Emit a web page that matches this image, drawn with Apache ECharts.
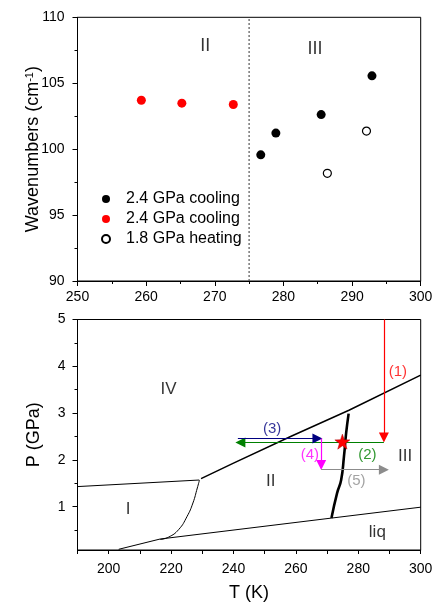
<!DOCTYPE html>
<html><head><meta charset="utf-8">
<script src="https://cdn.jsdelivr.net/npm/echarts@6/dist/echarts.min.js"></script>
<style>html,body{margin:0;padding:0;background:#fff}#c{width:436px;height:604px}</style>
</head><body><div id="c"></div>
<script>
// ---------- upper panel data ----------
const legendLabels = ['2.4 GPa cooling', '2.4 GPa cooling', '1.8 GPa heating'];
const coolBlackT = [276.7, 278.9, 285.5, 292.9];
const coolBlackW = [99.57, 101.22, 102.62, 105.56];
const coolRedT = [259.3, 265.2, 272.7];
const coolRedW = [103.71, 103.49, 103.39];
const heatT = [286.4, 292.1];
const heatW = [98.17, 101.37];
const transitionT = 275;
const topPhaseNames = ['II', 'III'];
const topPhaseT = [268.6, 284.6];
const topPhaseW = [107.8, 107.6];

// ---------- lower panel (phase diagram) data ----------
const bI_IV_T = [190, 229];
const bI_IV_P = [1.43, 1.57];
const bIV_T = [229.6, 240, 258.3, 277, 300];
const bIV_P = [1.60, 1.93, 2.50, 3.06, 3.81];
const bI_II_T = [229.1, 228.4, 227.0, 225.1, 222.4, 219.2, 216.5];
const bI_II_P = [1.57, 1.40, 1.08, 0.79, 0.51, 0.35, 0.30];
const bLiqT = [203.2, 216.5, 300];
const bLiqP = [0.09, 0.31, 0.99];
const bII_III_T = [271.4, 273.2, 274.5, 275.4, 276.1, 276.9];
const bII_III_P = [0.76, 1.29, 1.57, 2.07, 2.57, 2.99];
const starT = [274.9];
const starP = [2.39];
// arrows: start (T0,P0) -> end (T1,P1)
const arrowNames = ['(1)', '(2)', '(3)', '(4)', '(5)'];
const arrowT0 = [288.2, 288.2, 241.4, 268.1, 268.1];
const arrowP0 = [5.0, 2.37, 2.46, 2.46, 1.79];
const arrowT1 = [288.2, 242.2, 266.9, 268.1, 288.2];
const arrowP1 = [2.48, 2.37, 2.46, 1.89, 1.79];
const arrowColors = ['#ff0000', '#008000', '#000080', '#ff00ff', '#8c8c8c'];
const arrowLabelT = [292.7, 282.9, 252.4, 264.5, 279.4];
const arrowLabelP = [3.88, 2.11, 2.66, 2.11, 1.55];
const phaseNames = ['IV', 'I', 'II', 'III', 'liq'];
const phaseT = [219.2, 206.2, 251.9, 295.0, 286.1];
const phaseP = [3.50, 0.95, 1.54, 2.07, 0.46];

const FONT = 'Liberation Sans, Arial, sans-serif';
const zip = (a, b) => a.map((v, i) => [v, b[i]]);

const chart = echarts.init(document.getElementById('c'), null, {renderer: 'canvas'});

function labelSeries(xi, yi, names, xs, ys, size, colors) {
  return {
    type: 'scatter', xAxisIndex: xi, yAxisIndex: yi, symbolSize: 1,
    itemStyle: {color: 'rgba(0,0,0,0)'}, silent: true, z: 5,
    data: names.map((n, i) => ({
      name: n, value: [xs[i], ys[i]],
      label: {color: colors ? colors[i] : '#000'}
    })),
    label: {show: true, position: 'inside', formatter: '{b}', fontSize: size, fontFamily: FONT, color: '#000'}
  };
}

const lineBase = (xi, yi, xs, ys, w, extra) => Object.assign({
  type: 'line', xAxisIndex: xi, yAxisIndex: yi, showSymbol: false, symbol: 'none',
  data: zip(xs, ys), lineStyle: {color: '#000', width: w}, silent: true, z: 3
}, extra || {});

const axisCommon = {
  axisLine: {show: true, lineStyle: {color: '#000', width: 1}},
  axisTick: {show: true, inside: false, length: 5, lineStyle: {color: '#000', width: 1}},
  splitLine: {show: false},
  axisLabel: {color: '#000', fontSize: 14, fontFamily: FONT},
  nameTextStyle: {color: '#000', fontSize: 18, fontFamily: FONT},
  nameMoveOverlap: false
};

const option = {
  animation: false,
  backgroundColor: '#fff',
  grid: [
    {left: 77.5, top: 17.3, width: 343.2, height: 263.7, show: true, borderColor: '#000', borderWidth: 1},
    {left: 77.5, top: 319.5, width: 343.2, height: 230.5, show: true, borderColor: '#000', borderWidth: 1}
  ],
  legend: {
    show: true, orient: 'vertical', left: 96, top: 186, itemWidth: 8, itemHeight: 8, itemGap: 4,
    icon: 'circle', data: ['cb', 'cr', 'h'],
    formatter: n => legendLabels[['cb', 'cr', 'h'].indexOf(n)],
    textStyle: {color: '#000', fontSize: 16, fontFamily: FONT, padding: [0, 0, 0, 11]},
    selectedMode: false
  },
  xAxis: [
    Object.assign({}, axisCommon, {
      gridIndex: 0, type: 'value', min: 250, max: 300, interval: 10,
      minorTick: {show: true, splitNumber: 2, length: 3, lineStyle: {color: '#000', width: 1}},
      axisLabel: Object.assign({}, axisCommon.axisLabel, {margin: 9})
    }),
    Object.assign({}, axisCommon, {
      gridIndex: 1, type: 'value', min: 190, max: 300, interval: 10,
      axisTick: Object.assign({}, axisCommon.axisTick, {length: 4}),
      axisLabel: Object.assign({}, axisCommon.axisLabel, {margin: 12, formatter: v => (v % 20 === 0 ? String(v) : '')}),
      name: 'T (K)', nameLocation: 'middle', nameGap: 34
    })
  ],
  yAxis: [
    Object.assign({}, axisCommon, {
      gridIndex: 0, type: 'value', min: 90, max: 110, interval: 5,
      minorTick: {show: true, splitNumber: 2, length: 3, lineStyle: {color: '#000', width: 1}},
      axisLabel: Object.assign({}, axisCommon.axisLabel, {margin: 13}),
      name: 'Wavenumbers (cm{sup|-1})', nameLocation: 'middle', nameGap: 35, nameRotate: 90,
      nameTextStyle: {color: '#000', fontSize: 18, fontFamily: FONT,
        rich: {sup: {fontSize: 11, fontFamily: FONT, color: '#000', verticalAlign: 'top', lineHeight: 18}}}
    }),
    Object.assign({}, axisCommon, {
      gridIndex: 1, type: 'value', min: 0.075, max: 5, position: 'left',
      axisTick: Object.assign({}, axisCommon.axisTick, {customValues: [1, 2, 3, 4, 5]}),
      axisLabel: Object.assign({}, axisCommon.axisLabel, {margin: 12, customValues: [1, 2, 3, 4, 5]}),
      name: 'P (GPa)', nameLocation: 'middle', nameGap: 34, nameRotate: 90
    }),
    {
      gridIndex: 1, type: 'value', min: 0.075, max: 5, position: 'left', offset: 0, splitLine: {show: false},
      axisLine: {show: false, onZero: false},
      axisTick: {show: true, length: 3, lineStyle: {color: '#000', width: 1}, customValues: [0.5, 1.5, 2.5, 3.5, 4.5]},
      axisLabel: {show: false}
    }
  ],
  series: [
    {name: 'cb', type: 'scatter', xAxisIndex: 0, yAxisIndex: 0, symbol: 'circle', symbolSize: 9,
      itemStyle: {color: '#000', opacity: 1}, data: zip(coolBlackT, coolBlackW), z: 4},
    {name: 'cr', type: 'scatter', xAxisIndex: 0, yAxisIndex: 0, symbol: 'circle', symbolSize: 9,
      itemStyle: {color: '#ff0000', opacity: 1}, data: zip(coolRedT, coolRedW), z: 4},
    {name: 'h', type: 'scatter', xAxisIndex: 0, yAxisIndex: 0, symbol: 'circle', symbolSize: 8,
      itemStyle: {color: '#fff', borderColor: '#000', borderWidth: 1.2, opacity: 1}, data: zip(heatT, heatW), z: 4},
    lineBase(0, 0, [transitionT, transitionT], [90, 110], 1.2,
      {lineStyle: {color: '#555', width: 1.2, type: [2, 2]}}),
    labelSeries(0, 0, topPhaseNames, topPhaseT, topPhaseW, 18),

    lineBase(1, 1, bI_IV_T, bI_IV_P, 1),
    lineBase(1, 1, bIV_T, bIV_P, 1.5),
    lineBase(1, 1, bI_II_T, bI_II_P, 1, {smooth: true}),
    lineBase(1, 1, bLiqT, bLiqP, 1),
    lineBase(1, 1, bII_III_T, bII_III_P, 2.6, {smooth: true}),
    {
      type: 'lines', coordinateSystem: 'cartesian2d', xAxisIndex: 1, yAxisIndex: 1, z: 6,
      symbol: ['none', 'triangle'], symbolSize: [8, 10], silent: true,
      data: arrowNames.map((n, i) => ({
        coords: [[arrowT0[i], arrowP0[i]], [arrowT1[i], arrowP1[i]]],
        lineStyle: {color: arrowColors[i], width: 1.2, opacity: 1, curveness: 0}
      })),
      lineStyle: {width: 1.2, opacity: 1}
    },
    {type: 'scatter', xAxisIndex: 1, yAxisIndex: 1, z: 7, symbolSize: 15,
      symbol: 'path://M0,-10 L2.35,-3.24 L9.51,-3.09 L3.80,1.24 L5.88,8.09 L0,4 L-5.88,8.09 L-3.80,1.24 L-9.51,-3.09 L-2.35,-3.24 Z',
      itemStyle: {color: '#ff0000', borderColor: '#b00000', borderWidth: 0.5, opacity: 1}, data: zip(starT, starP), silent: true},
    labelSeries(1, 1, arrowNames, arrowLabelT, arrowLabelP, 15, arrowColors),
    labelSeries(1, 1, phaseNames, phaseT, phaseP, 17)
  ]
};
chart.setOption(option);
</script>
</body></html>
